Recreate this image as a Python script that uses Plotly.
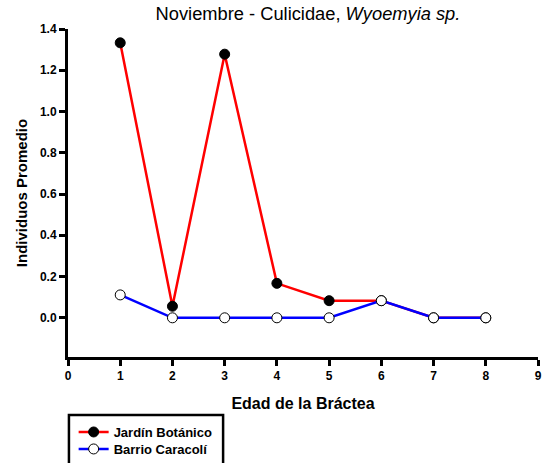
import plotly.graph_objects as go

# Bract age categories and mean individuals per site
edad = [1, 2, 3, 4, 5, 6, 7, 8]
jardin_botanico = [1.333, 0.056, 1.278, 0.167, 0.083, 0.083, 0.0, 0.0]
barrio_caracoli = [0.111, 0.0, 0.0, 0.0, 0.0, 0.083, 0.0, 0.0]
x_ticks = [0, 1, 2, 3, 4, 5, 6, 7, 8, 9]
y_ticks = [0.0, 0.2, 0.4, 0.6, 0.8, 1.0, 1.2, 1.4]

font_family = "Liberation Sans, Arial, sans-serif"

fig = go.Figure()
fig.add_trace(go.Scatter(
    x=edad, y=jardin_botanico, name="<b>Jardín Botánico</b>",
    mode="lines+markers", legend="legend",
    line=dict(color="#ff0000", width=2.5),
    marker=dict(color="black", size=10, line=dict(color="black", width=1)),
))
fig.add_trace(go.Scatter(
    x=edad, y=barrio_caracoli, name="<b>Barrio Caracolí</b>",
    mode="lines+markers", legend="legend2",
    line=dict(color="#0000ff", width=2.5),
    marker=dict(color="white", size=10, line=dict(color="black", width=1)),
))

# Legend frame, extending past the lower edge of the page
fig.add_shape(
    type="rect", xref="paper", yref="paper",
    x0=0.002, x1=0.330, y0=-0.36, y1=-0.177,
    line=dict(color="black", width=2.5), fillcolor="white", layer="below",
)

legend_style = dict(
    x=0.012, xanchor="left", yanchor="middle",
    borderwidth=0, bgcolor="rgba(0,0,0,0)",
    font=dict(size=13, color="black"),
    itemwidth=30,
)

fig.update_layout(
    width=548, height=463,
    margin=dict(l=68, r=10, t=29, b=106, autoexpand=False),
    paper_bgcolor="white", plot_bgcolor="white",
    font=dict(family=font_family, color="black"),
    title=dict(
        text="Noviembre - Culicidae, <i>Wyoemyia sp.</i>",
        x=0.562, xanchor="center", y=0.97, yanchor="middle",
        font=dict(size=18.3, family=font_family, color="black"),
    ),
    xaxis=dict(
        range=[0, 9], tickvals=x_ticks,
        ticktext=[f"<b>{v}</b>" for v in x_ticks],
        showline=True, linecolor="black", linewidth=3,
        ticks="outside", tickwidth=2.5, ticklen=6, tickcolor="black",
        showgrid=False, zeroline=False,
        tickfont=dict(size=12),
        title=dict(text="<b>Edad de la Bráctea</b>", font=dict(size=16), standoff=16),
    ),
    yaxis=dict(
        range=[-0.19, 1.4], tickvals=y_ticks,
        ticktext=[f"<b>{v:.1f}</b>" for v in y_ticks],
        showline=True, linecolor="black", linewidth=3,
        ticks="outside", tickwidth=2.5, ticklen=6, tickcolor="black",
        showgrid=False, zeroline=False,
        tickfont=dict(size=12),
        title=dict(text="<b>Individuos Promedio</b>", font=dict(size=15), standoff=9),
    ),
    showlegend=True,
    legend=dict(y=-0.2287, **legend_style),
    legend2=dict(y=-0.2805, **legend_style),
)

fig.write_html("out.html")
